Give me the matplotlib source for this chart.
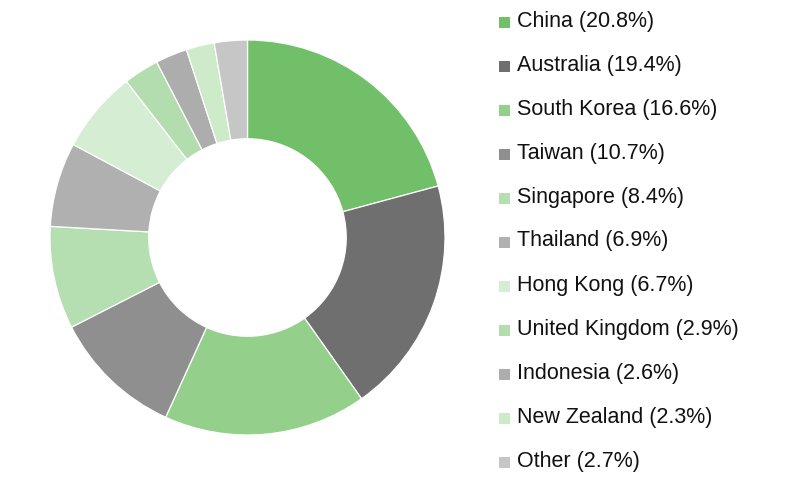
import matplotlib.pyplot as plt
from matplotlib.patches import Rectangle

countries = ['China', 'Australia', 'South Korea', 'Taiwan', 'Singapore', 'Thailand',
             'Hong Kong', 'United Kingdom', 'Indonesia', 'New Zealand', 'Other']
shares = [20.8, 19.4, 16.6, 10.7, 8.4, 6.9, 6.7, 2.9, 2.6, 2.3, 2.7]
colors = ['#72bf6a', '#6f6f6f', '#94d08c', '#8f8f8f', '#b5dfb0', '#b0b0b0',
          '#d5edd2', '#b3ddae', '#adadad', '#cdeac9', '#c6c6c6']

W, H = 800, 484
fig = plt.figure(figsize=(8, 4.84), dpi=100)

cx, cy, r = 247.5, 237.5, 197.5
ax = fig.add_axes([(cx - r) / W, (H - cy - r) / H, 2 * r / W, 2 * r / H])
ax.pie(shares, colors=colors, startangle=90, counterclock=False, radius=1,
       wedgeprops=dict(width=0.5, edgecolor='white', linewidth=0.9))
ax.set_xlim(-1, 1)
ax.set_ylim(-1, 1)
ax.set_aspect('equal')
ax.axis('off')

# legend drawn by hand
y0, dy = 22, 44
for i, (name, val, c) in enumerate(zip(countries, shares, colors)):
    y = y0 + i * dy
    fig.patches.append(Rectangle((499 / W, (H - y - 5.5) / H), 11 / W, 11 / H,
                                 transform=fig.transFigure, facecolor=c, edgecolor='none'))
    fig.text(517 / W, (H - y + 1) / H, f'{name} ({val}%)', fontsize=15.5,
             family='Liberation Sans', va='center', ha='left', color='#111111')

fig.savefig('out.png', dpi=100)
